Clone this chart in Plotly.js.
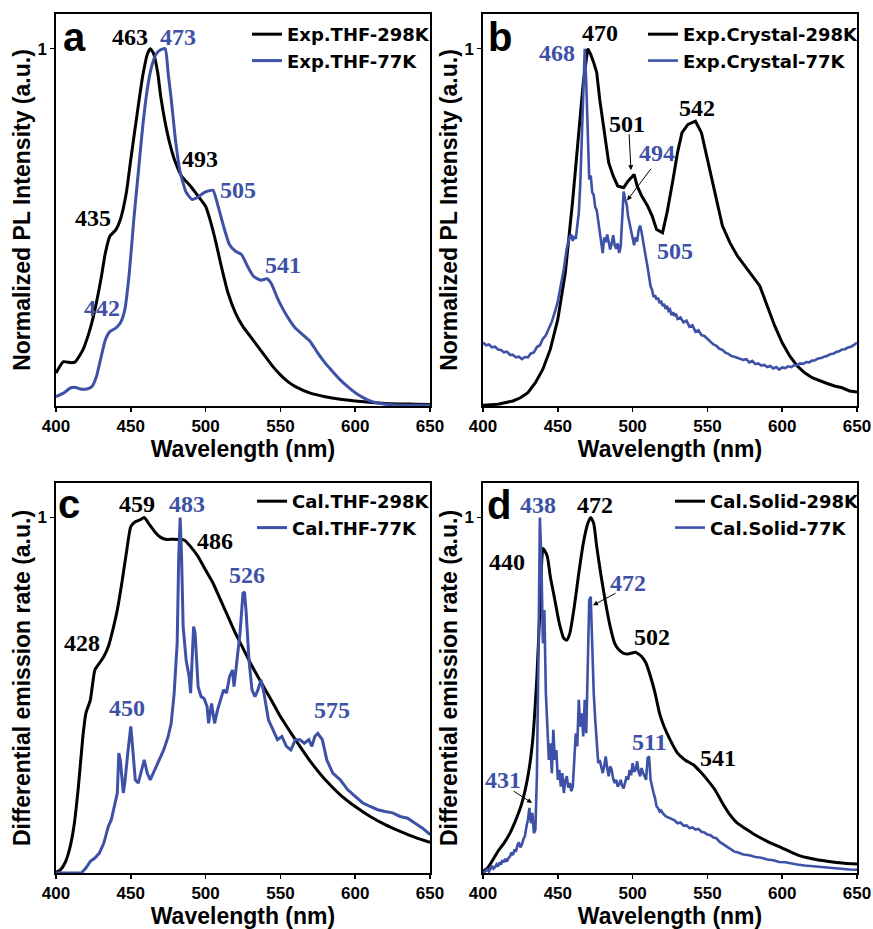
<!DOCTYPE html>
<html>
<head>
<meta charset="utf-8">
<script src="https://cdn.plot.ly/plotly-3.0.1.min.js"></script>
<style>
  html, body { margin: 0; padding: 0; background: #fff; }
  #chart { width: 873px; height: 929px; }
</style>
</head>
<body>
<div id="chart"></div>
<script>
// ---------- (a) experimental PL in THF ----------
const wlA298 = [400,405,410,413,418,422,425,430,433,436,440,443,447,450,455,458,461,463,465,468,470,473,476,480,484,490,495,500,503,507,510,515,520,525,530,535,540,545,550,555,560,570,580,590,600,620,640,650];
const intA298 = [0.092,0.124,0.121,0.124,0.157,0.204,0.25,0.353,0.428,0.475,0.493,0.521,0.596,0.69,0.84,0.924,0.984,1.0,0.989,0.933,0.867,0.793,0.736,0.68,0.643,0.615,0.587,0.559,0.521,0.456,0.4,0.316,0.26,0.222,0.194,0.166,0.138,0.11,0.087,0.068,0.054,0.036,0.026,0.019,0.014,0.007,0.005,0.004];

const wlA77 = [400,405,410,413,417,420,424,427,430,433,436,440,443,446,449,452,455,458,461,464,467,470,473,475,477,480,483,487,491,495,499,502,505,508,512,516,520,524,528,532,537,541,544,548,552,556,560,565,570,575,580,585,590,595,600,605,610,620,630,640,650];
const intA77 = [0.026,0.036,0.051,0.052,0.047,0.047,0.054,0.082,0.134,0.185,0.208,0.218,0.232,0.269,0.372,0.521,0.652,0.783,0.886,0.951,0.985,0.997,1.0,0.93,0.86,0.74,0.655,0.598,0.578,0.585,0.597,0.602,0.604,0.565,0.503,0.451,0.433,0.424,0.391,0.363,0.352,0.356,0.342,0.302,0.269,0.241,0.218,0.199,0.18,0.148,0.12,0.096,0.073,0.054,0.037,0.024,0.014,0.005,0.002,0.002,0.002];

// ---------- (b) experimental PL of the crystal ----------
const wlB298 = [400,410,420,425,430,435,440,445,450,455,460,464,467,470,472,474,476,478,481,484,487,490,494,497,501,503,506,510,513,516,520,523,527,530,533,537,542,546,550,555,560,565,570,575,580,585,590,595,600,605,610,615,620,625,630,635,640,645,650];
const intB298 = [0.002,0.005,0.014,0.023,0.037,0.065,0.103,0.159,0.243,0.373,0.578,0.765,0.905,1.0,0.984,0.961,0.933,0.858,0.765,0.681,0.644,0.616,0.611,0.63,0.648,0.616,0.588,0.56,0.532,0.494,0.485,0.541,0.634,0.709,0.765,0.788,0.797,0.765,0.69,0.597,0.504,0.457,0.42,0.392,0.364,0.336,0.28,0.224,0.177,0.14,0.112,0.093,0.079,0.07,0.063,0.056,0.051,0.042,0.039];

const wlB77 = [400,402,404,406,408,410,412,414,416,418,420,422,424,426,428,430,432,434,436,438,440,442,444,446,448,450,452,454,456,458,
  459,460,461,462,463,464,465,466,467,468,469,470,471,472,473,474,475,476,477,478,479,480,481,482,483,484,485,486,487,488,
  489,490,491,492,493,494,495,496,497,498,499,500,501,502,503,504,505,506,507,508,509,510,511,512,513,514,515,516,517,518,
  519,520,521,522,523,524,525,526,527,528,529,530,
  532,534,536,538,540,542,544,546,548,550,552,554,556,558,560,562,564,566,568,570,572,574,576,578,580,582,584,586,588,590,
  592,594,596,598,600,602,604,606,608,610,612,614,616,618,620,622,624,626,628,630,632,634,636,638,640,642,644,646,648,650];
const intB77 = [0.178,0.170,0.172,0.164,0.166,0.158,0.157,0.150,0.152,0.143,0.143,0.136,0.138,0.131,0.137,0.136,0.147,0.150,0.165,0.170,0.188,0.198,0.217,0.236,0.263,0.293,0.338,0.383,0.442,0.474,
  0.480,0.462,0.475,0.468,0.505,0.540,0.620,0.765,0.905,1.0,0.905,0.746,0.634,0.645,0.598,0.590,0.556,0.548,0.515,0.492,0.452,0.428,0.472,0.458,0.480,0.452,0.438,0.455,0.478,0.450,
  0.440,0.455,0.428,0.445,0.540,0.600,0.578,0.565,0.530,0.510,0.485,0.472,0.450,0.472,0.460,0.492,0.505,0.486,0.458,0.428,0.412,0.388,0.365,0.335,0.325,0.305,0.310,0.298,0.303,0.288,
  0.295,0.280,0.286,0.272,0.280,0.266,0.270,0.254,0.262,0.252,0.258,0.244,
  0.248,0.234,0.239,0.222,0.226,0.208,0.212,0.198,0.196,0.188,0.181,0.172,0.168,0.160,0.157,0.149,0.146,0.140,0.138,0.135,0.134,0.129,0.131,0.122,0.126,0.117,0.119,0.113,0.115,0.109,
  0.112,0.105,0.109,0.102,0.108,0.106,0.111,0.109,0.114,0.114,0.119,0.118,0.123,0.122,0.127,0.128,0.133,0.134,0.138,0.140,0.145,0.146,0.151,0.153,0.158,0.159,0.164,0.166,0.171,0.177];

// ---------- (c) calculated emission in THF ----------
const wlC298 = [400,403,406,409,412,415,418,420,423,426,429,432,435,438,441,444,447,450,453,456,459,462,466,470,474,478,482,486,490,495,500,505,510,515,520,525,530,535,540,545,550,555,560,570,580,590,600,610,620,630,640,650];
const intC298 = [0.002,0.009,0.028,0.066,0.131,0.243,0.384,0.449,0.487,0.571,0.59,0.609,0.637,0.684,0.74,0.815,0.899,0.974,0.988,0.993,1.0,0.983,0.96,0.944,0.938,0.939,0.938,0.936,0.918,0.89,0.852,0.815,0.768,0.721,0.674,0.632,0.59,0.552,0.515,0.478,0.44,0.407,0.375,0.314,0.262,0.22,0.187,0.159,0.136,0.117,0.1,0.086];

const wlC77 = [400,417,420,423,426,429,432,435,437,439,441,442,443,445,446,448,450,451,453,455,457,459,461,463,466,469,472,475,477,479,481,482,483,484,485,487,489,490,491,492,493,494,495,497,499,501,502,504,506,508,510,512,514,516,518,519,521,523,525,526,527,529,531,533,535,537,539,542,545,548,551,554,557,560,563,566,569,571,573,575,578,581,585,590,595,600,605,610,615,620,625,630,635,640,645,650];
const intC77 = [0,0,0.014,0.033,0.042,0.056,0.084,0.131,0.15,0.187,0.225,0.337,0.318,0.225,0.253,0.337,0.412,0.365,0.262,0.253,0.29,0.318,0.281,0.262,0.29,0.318,0.346,0.384,0.421,0.506,0.646,0.88,1.0,0.88,0.693,0.599,0.552,0.506,0.599,0.693,0.674,0.58,0.524,0.496,0.491,0.468,0.421,0.477,0.421,0.459,0.487,0.515,0.506,0.552,0.571,0.524,0.599,0.674,0.787,0.791,0.74,0.599,0.515,0.496,0.515,0.543,0.506,0.431,0.403,0.375,0.384,0.356,0.346,0.375,0.375,0.365,0.375,0.356,0.384,0.393,0.375,0.318,0.281,0.262,0.234,0.215,0.197,0.187,0.178,0.173,0.169,0.159,0.154,0.14,0.126,0.108];

// ---------- (d) calculated emission of the solid ----------
const wlD298 = [400,403,406,410,414,418,422,426,430,433,436,438,440,441,443,445,448,451,454,456,458,461,464,467,470,472,474,476,479,482,485,488,491,494,497,502,506,509,512,515,518,521,525,530,535,541,545,550,555,560,565,570,575,580,590,600,610,620,630,640,650];
const intD298 = [0.005,0.014,0.033,0.061,0.084,0.112,0.15,0.197,0.272,0.365,0.552,0.74,0.913,0.908,0.89,0.833,0.768,0.702,0.66,0.655,0.674,0.749,0.843,0.927,0.983,1.0,0.983,0.918,0.833,0.758,0.693,0.646,0.627,0.618,0.616,0.621,0.609,0.59,0.552,0.506,0.449,0.412,0.375,0.337,0.318,0.303,0.286,0.262,0.234,0.197,0.164,0.14,0.126,0.112,0.089,0.07,0.051,0.04,0.033,0.028,0.025];

const wlD77 = [400,
  402,403,404,405,406,407,408,409,410,411,412,413,414,415,416,417,418,419,420,421,422,423,424,425,426,427,428,429,430,431,
  432,433,434,435,436,437,438,439,440,441,442,443,444,445,446,447,448,449,450,451,452,453,454,455,456,457,458,459,460,461,
  462,463,464,465,466,467,468,469,470,471,472,473,474,475,476,477,478,479,480,481,482,483,484,485,486,487,488,489,490,491,
  492,493,494,495,496,497,498,499,500,501,502,503,504,505,506,507,508,509,510,511,512,513,514,515,516,517,518,519,520,
  522,524,526,528,530,532,534,536,538,540,542,544,546,548,550,552,554,556,558,560,562,564,566,568,570,
  574,578,582,586,590,594,598,602,
  606,610,615,620,625,630,635,640,645,650];
const intD77 = [0.000,
  0.006,0.010,0.004,0.014,0.020,0.012,0.016,0.024,0.018,0.030,0.024,0.036,0.030,0.040,0.032,0.042,0.046,0.058,0.050,0.066,0.060,0.078,0.086,0.072,0.080,0.096,0.104,0.130,0.150,0.183,
  0.140,0.169,0.112,0.122,0.272,0.599,1.0,0.880,0.646,0.740,0.506,0.412,0.318,0.365,0.281,0.403,0.318,0.346,0.262,0.290,0.243,0.281,0.225,0.260,0.272,0.240,0.253,0.230,0.243,0.318,
  0.393,0.356,0.487,0.412,0.449,0.384,0.487,0.393,0.552,0.768,0.777,0.627,0.506,0.431,0.356,0.309,0.318,0.295,0.281,0.300,0.328,0.295,0.272,0.300,0.290,0.265,0.253,0.262,0.243,0.250,
  0.262,0.245,0.238,0.255,0.272,0.262,0.290,0.275,0.309,0.285,0.290,0.314,0.285,0.272,0.295,0.281,0.270,0.262,0.323,0.328,0.262,0.240,0.225,0.210,0.187,0.182,0.173,0.176,0.169,
  0.160,0.156,0.150,0.148,0.140,0.142,0.133,0.134,0.126,0.128,0.122,0.124,0.116,0.114,0.108,0.106,0.100,0.098,0.088,0.082,0.076,0.070,0.066,0.060,0.058,
  0.052,0.050,0.045,0.043,0.038,0.036,0.031,0.030,
  0.026,0.024,0.021,0.019,0.016,0.014,0.013,0.011,0.010,0.009];

// series names and peak labels
const namesA = ['Exp.THF-298K', 'Exp.THF-77K'];
const namesB = ['Exp.Crystal-298K', 'Exp.Crystal-77K'];
const namesC = ['Cal.THF-298K', 'Cal.THF-77K'];
const namesD = ['Cal.Solid-298K', 'Cal.Solid-77K'];
const peaksA298 = [435, 463, 493];
const peaksA77 = [442, 473, 505, 541];
const peaksB298 = [470, 501, 542];
const peaksB77 = [468, 494, 505];
const peaksC298 = [428, 459, 486];
const peaksC77 = [450, 483, 526, 575];
const peaksD298 = [440, 472, 502, 541];
const peaksD77 = [431, 438, 472, 511];
const xTicks = [400, 450, 500, 550, 600, 650];

const BLACK = '#000000';
const BLUE = '#3d51a6';
const SANS = "'Liberation Sans', Arial, Helvetica, sans-serif";
const SERIF = "'Liberation Serif', 'Times New Roman', 'DejaVu Serif', serif";
const LEGEND_FONT = "'DejaVu Sans', sans-serif";

function trace(x, y, name, color, xa, ya, legend, smooth, width) {
  return {
    type: 'scatter', mode: 'lines', x: x, y: y, name: name,
    xaxis: xa, yaxis: ya, legend: legend,
    line: { color: color, width: width || 3, shape: smooth ? 'spline' : 'linear', smoothing: 0.5 },
    hoverinfo: 'skip'
  };
}

const data = [
  trace(wlA298, intA298, namesA[0], BLACK, 'x', 'y', 'legend', true),
  trace(wlA77, intA77, namesA[1], BLUE, 'x', 'y', 'legend', true),
  trace(wlB298, intB298, namesB[0], BLACK, 'x2', 'y2', 'legend2', false),
  trace(wlB77, intB77, namesB[1], BLUE, 'x2', 'y2', 'legend2', false, 2.6),
  trace(wlC298, intC298, namesC[0], BLACK, 'x3', 'y3', 'legend3', true),
  trace(wlC77, intC77, namesC[1], BLUE, 'x3', 'y3', 'legend3', false),
  trace(wlD298, intD298, namesD[0], BLACK, 'x4', 'y4', 'legend4', true),
  trace(wlD77, intD77, namesD[1], BLUE, 'x4', 'y4', 'legend4', false, 2.6)
];

function xAxis(domain, anchor) {
  return {
    domain: domain, anchor: anchor, range: [400, 650],
    tickmode: 'array', tickvals: xTicks, ticktext: xTicks.map(String),
    ticks: 'outside', ticklen: 4, tickwidth: 1.5, tickcolor: '#000',
    tickfont: { family: SANS, size: 17, color: '#000', weight: 'bold' },
    showline: true, linecolor: '#000', linewidth: 1.6, mirror: true,
    showgrid: false, zeroline: false,
    title: { text: 'Wavelength (nm)', font: { family: SANS, size: 23, color: '#000', weight: 'bold' }, standoff: 0 }
  };
}
function yAxis(domain, anchor, label) {
  return {
    domain: domain, anchor: anchor, range: [0, 1.097],
    tickmode: 'array', tickvals: [1], ticktext: ['1'],
    ticks: 'outside', ticklen: 4, tickwidth: 1.5, tickcolor: '#000',
    tickfont: { family: SANS, size: 17, color: '#000', weight: 'bold' },
    showline: true, linecolor: '#000', linewidth: 1.6, mirror: true,
    showgrid: false, zeroline: false,
    title: { text: label, font: { family: SANS, size: 23, color: '#000', weight: 'bold' }, standoff: 0 }
  };
}

function legendAt(x, y) {
  return {
    x: x, y: y, xanchor: 'left', yanchor: 'top', xref: 'paper', yref: 'paper',
    bgcolor: 'rgba(0,0,0,0)', borderwidth: 0, tracegroupgap: 0, traceorder: 'normal',
    font: { family: LEGEND_FONT, size: 18, color: '#000', weight: 'bold' }
  };
}

function label(xa, ya, x, y, value, color) {
  return {
    xref: xa, yref: ya, x: x, y: y, text: '<b>' + String(value) + '</b>', showarrow: false,
    xanchor: 'center', yanchor: 'middle',
    font: { family: SERIF, size: 24, color: color }
  };
}
function letter(xa, ya, x, y, text) {
  return {
    xref: xa, yref: ya, x: x, y: y, text: text, showarrow: false,
    xanchor: 'center', yanchor: 'middle',
    font: { family: SANS, size: 40, color: '#000', weight: 'bold' }
  };
}
function arrow(xa, ya, x, y, tx, ty) {
  return {
    xref: xa, yref: ya, x: x, y: y, axref: xa, ayref: ya, ax: tx, ay: ty,
    text: '', showarrow: true, arrowhead: 2, arrowsize: 1, arrowwidth: 1, arrowcolor: '#000'
  };
}

const annotations = [
  letter('x', 'y', 412.7, 1.034, 'a'),
  label('x', 'y', 449.5, 1.034, peaksA298[1], BLACK),
  label('x', 'y', 481.6, 1.034, peaksA77[1], BLUE),
  label('x', 'y', 424.7, 0.527, peaksA298[0], BLACK),
  label('x', 'y', 430.7, 0.275, peaksA77[0], BLUE),
  label('x', 'y', 496.3, 0.692, peaksA298[2], BLACK),
  label('x', 'y', 521.7, 0.605, peaksA77[2], BLUE),
  label('x', 'y', 551.7, 0.395, peaksA77[3], BLUE),

  letter('x2', 'y2', 411.4, 1.034, 'b'),
  label('x2', 'y2', 478.2, 1.045, peaksB298[0], BLACK),
  label('x2', 'y2', 449.5, 0.989, peaksB77[0], BLUE),
  label('x2', 'y2', 496.3, 0.788, peaksB298[1], BLACK),
  label('x2', 'y2', 543.0, 0.835, peaksB298[2], BLACK),
  label('x2', 'y2', 516.3, 0.709, peaksB77[1], BLUE),
  label('x2', 'y2', 528.3, 0.433, peaksB77[2], BLUE),
  arrow('x2', 'y2', 498.9, 0.66, 497.6, 0.765),
  arrow('x2', 'y2', 496.3, 0.575, 513.0, 0.668),

  letter('x3', 'y3', 408.5, 1.039, 'c'),
  label('x3', 'y3', 454.1, 1.039, peaksC298[1], BLACK),
  label('x3', 'y3', 487.6, 1.039, peaksC77[1], BLUE),
  label('x3', 'y3', 506.3, 0.935, peaksC298[2], BLACK),
  label('x3', 'y3', 417.4, 0.646, peaksC298[0], BLACK),
  label('x3', 'y3', 527.7, 0.837, peaksC77[2], BLUE),
  label('x3', 'y3', 447.5, 0.463, peaksC77[0], BLUE),
  label('x3', 'y3', 584.5, 0.458, peaksC77[3], BLUE),

  letter('x4', 'y4', 410.5, 1.034, 'd'),
  label('x4', 'y4', 436.8, 1.034, peaksD77[1], BLUE),
  label('x4', 'y4', 474.9, 1.034, peaksD298[1], BLACK),
  label('x4', 'y4', 416.0, 0.874, peaksD298[0], BLACK),
  label('x4', 'y4', 496.9, 0.817, peaksD77[2], BLUE),
  label('x4', 'y4', 513.0, 0.663, peaksD298[2], BLACK),
  label('x4', 'y4', 511.6, 0.368, peaksD77[3], BLUE),
  label('x4', 'y4', 557.1, 0.323, peaksD298[3], BLACK),
  label('x4', 'y4', 413.4, 0.261, peaksD77[0], BLUE),
  arrow('x4', 'y4', 473.5, 0.753, 489.6, 0.789),
  arrow('x4', 'y4', 432.8, 0.197, 419.4, 0.233)
];

const topRow = [0.5630, 0.9849];
const bottomRow = [0.0603, 0.4801];
const leftCol = [0.0641, 0.4926];
const rightCol = [0.5533, 0.9817];

const layout = {
  width: 873, height: 929,
  margin: { l: 0, r: 0, t: 0, b: 0 },
  paper_bgcolor: '#ffffff', plot_bgcolor: '#ffffff',
  showlegend: true,
  xaxis: xAxis(leftCol, 'y'),
  yaxis: yAxis(topRow, 'x', 'Normalized PL Intensity (a.u.)'),
  xaxis2: xAxis(rightCol, 'y2'),
  yaxis2: yAxis(topRow, 'x2', 'Normalized PL Intensity (a.u.)'),
  xaxis3: xAxis(leftCol, 'y3'),
  yaxis3: yAxis(bottomRow, 'x3', 'Differential emission rate (a.u.)'),
  xaxis4: xAxis(rightCol, 'y4'),
  yaxis4: yAxis(bottomRow, 'x4', 'Differential emission rate (a.u.)'),
  legend: legendAt(0.2829, 0.9828),
  legend2: legendAt(0.7365, 0.9828),
  legend3: legendAt(0.2887, 0.4801),
  legend4: legendAt(0.7675, 0.4801),
  annotations: annotations
};

Plotly.newPlot('chart', data, layout, { displayModeBar: false, staticPlot: true });
</script>
</body>
</html>
